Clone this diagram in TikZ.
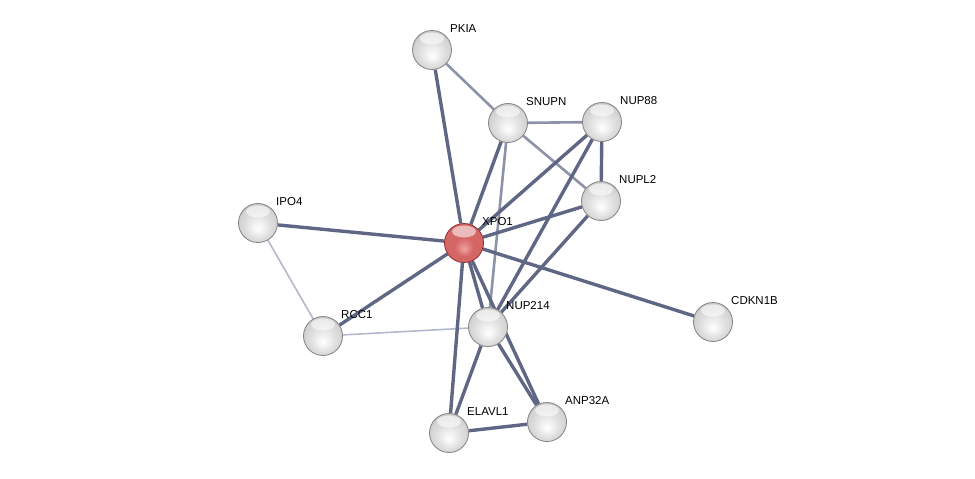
\documentclass[tikz,border=0pt]{standalone}
\usepackage{fontspec}
\setmainfont{Liberation Sans}
\usepackage{tikz}
\usetikzlibrary{backgrounds}
\usepackage{xcolor}
\definecolor{edgedark}{RGB}{96,103,132}
\definecolor{edgemid}{RGB}{140,146,170}
\definecolor{edgelight}{RGB}{180,184,204}
\definecolor{ballrim}{RGB}{130,130,130}
\definecolor{redrim}{RGB}{140,45,45}
\definecolor{redlow}{RGB}{240,160,160}
\definecolor{redbody}{RGB}{212,102,102}
\definecolor{reddark}{RGB}{170,65,65}
\pgfdeclareradialshading{protball}{\pgfpoint{0bp}{-8bp}}{%
  color(0bp)=(white); color(8bp)=(gray!12); color(16bp)=(gray!25);
  color(24bp)=(gray!35); color(30bp)=(gray!48); color(34bp)=(gray!60)}
\pgfdeclareradialshading{queryball}{\pgfpoint{0bp}{-8bp}}{%
  color(0bp)=(redlow); color(12bp)=(redbody); color(26bp)=(redbody);
  color(34bp)=(reddark)}

\begin{document}
\begin{tikzpicture}[
    x=1pt, y=1pt,
    protein/.style={circle, minimum size=39pt, inner sep=0pt,
                    shading=protball, draw=ballrim, line width=0.8pt,
                    path picture={\fill[white, opacity=0.55]
                      ([yshift=-8pt]path picture bounding box.north)
                      ellipse (12pt and 6pt);}},
    query/.style={protein, shading=queryball, draw=redrim},
    plabel/.style={anchor=base west, inner sep=0pt,
                   font=\fontsize{11.5}{13}\selectfont},
    hiconf/.style={draw=edgedark, line width=3.4pt},
    midconf/.style={draw=edgemid, line width=2.6pt},
    loconf/.style={draw=edgelight, line width=1.6pt},
]
  \useasboundingbox (0,0) rectangle (975,-479);

  % ---- proteins ----
  \node[protein] (pkia)   at (432,-50)  {};
  \node[protein] (snupn)  at (508,-123) {};
  \node[protein] (nup88)  at (602,-122) {};
  \node[protein] (nupl2)  at (601,-201) {};
  \node[protein] (ipo4)   at (258,-223) {};
  \node[query]   (xpo1)   at (464,-243) {};
  \node[protein] (cdkn1b) at (713,-322) {};
  \node[protein] (rcc1)   at (323,-336) {};
  \node[protein] (nup214) at (488,-327) {};
  \node[protein] (elavl1) at (449,-433) {};
  \node[protein] (anp32a) at (547,-422) {};

  % ---- labels ----
  \node[plabel] at ([shift={(18,18)}]pkia.center)   {PKIA};
  \node[plabel] at ([shift={(18,18)}]snupn.center)  {SNUPN};
  \node[plabel] at ([shift={(18,18)}]nup88.center)  {NUP88};
  \node[plabel] at ([shift={(18,18)}]nupl2.center)  {NUPL2};
  \node[plabel] at ([shift={(18,18)}]ipo4.center)   {IPO4};
  \node[plabel] at ([shift={(18,18)}]xpo1.center)   {XPO1};
  \node[plabel] at ([shift={(18,18)}]cdkn1b.center) {CDKN1B};
  \node[plabel] at ([shift={(18,18)}]rcc1.center)   {RCC1};
  \node[plabel] at ([shift={(18,18)}]nup214.center) {NUP214};
  \node[plabel] at ([shift={(18,18)}]elavl1.center) {ELAVL1};
  \node[plabel] at ([shift={(18,18)}]anp32a.center) {ANP32A};

  % ---- interactions ----
  \begin{scope}[on background layer]
    \draw[loconf]  (ipo4) -- (rcc1);
    \draw[loconf]  (rcc1) -- (nup214);
    \draw[midconf] (pkia) -- (snupn);
    \draw[midconf] (snupn) -- (nup88);
    \draw[midconf] (snupn) -- (nupl2);
    \draw[midconf] (snupn) -- (nup214);
    \draw[hiconf] (pkia) -- (xpo1);
    \draw[hiconf] (snupn) -- (xpo1);
    \draw[hiconf] (nup88) -- (xpo1);
    \draw[hiconf] (nup88) -- (nupl2);
    \draw[hiconf] (nup88) -- (nup214);
    \draw[hiconf] (nupl2) -- (xpo1);
    \draw[hiconf] (nupl2) -- (nup214);
    \draw[hiconf] (ipo4) -- (xpo1);
    \draw[hiconf] (rcc1) -- (xpo1);
    \draw[hiconf] (xpo1) -- (cdkn1b);
    \draw[hiconf] (xpo1) -- (nup214);
    \draw[hiconf] (xpo1) -- (elavl1);
    \draw[hiconf] (xpo1) -- (anp32a);
    \draw[hiconf] (nup214) -- (elavl1);
    \draw[hiconf] (nup214) -- (anp32a);
    \draw[hiconf] (elavl1) -- (anp32a);
  \end{scope}
\end{tikzpicture}
\end{document}
